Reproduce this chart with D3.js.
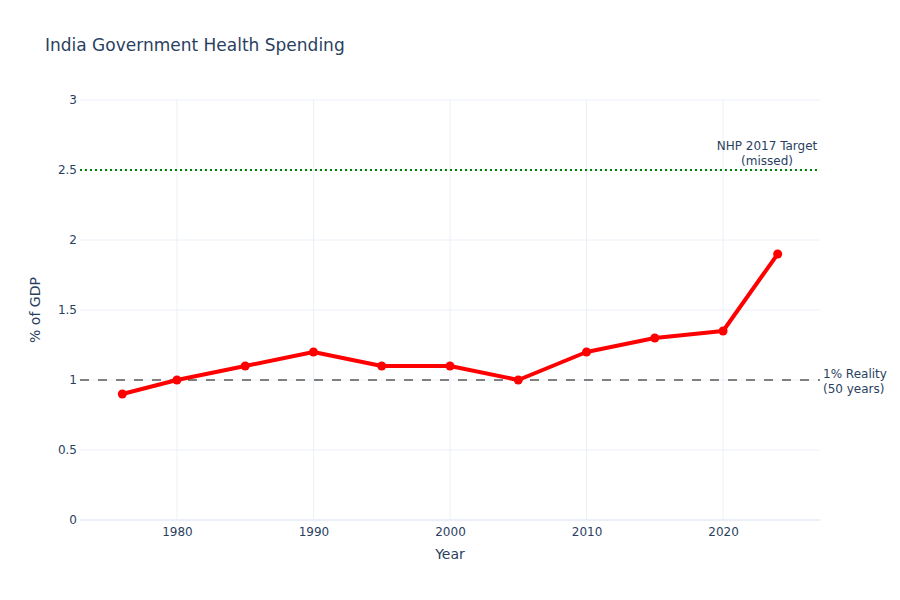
<!DOCTYPE html>
<html><head><meta charset="utf-8">
<script src="https://cdn.jsdelivr.net/npm/d3@7"></script>
<style>body{margin:0;background:#fff;} text{font-family:"DejaVu Sans",Verdana,sans-serif;}</style>
</head><body><svg id="c" width="900" height="600"></svg>
<script>
const years = [1976,1980,1985,1990,1995,2000,2005,2010,2015,2020,2024];
const spending = [0.9,1.0,1.1,1.2,1.1,1.1,1.0,1.2,1.3,1.35,1.9];
const xTicks = [1980,1990,2000,2010,2020];
const yTicks = [0,0.5,1,1.5,2,2.5,3];
const targetLevel = 2.5;
const realityLevel = 1;

const FONT='"DejaVu Sans",Verdana,sans-serif';
const svg = d3.select("#c");
const L=80,R=820,T=100,B=520;
const x = d3.scaleLinear().domain([1972.9,2027.1]).range([L,R]);
const y = d3.scaleLinear().domain([0,3]).range([B,T]);
const txt="#2a3f5f", grid="#ebf0f8";

// grid
svg.append("g").selectAll("line").data(xTicks).join("line")
 .attr("x1",d=>x(d)).attr("x2",d=>x(d)).attr("y1",T).attr("y2",B)
 .attr("stroke",grid).attr("stroke-width",1);
svg.append("g").selectAll("line").data(yTicks.filter(d=>d>0)).join("line")
 .attr("x1",L).attr("x2",R).attr("y1",d=>y(d)).attr("y2",d=>y(d))
 .attr("stroke",grid).attr("stroke-width",1);
svg.append("line").attr("x1",L).attr("x2",R).attr("y1",y(0)).attr("y2",y(0))
 .attr("stroke",grid).attr("stroke-width",2);

// axes
const xa = svg.append("g").attr("transform",`translate(0,${B})`)
 .call(d3.axisBottom(x).tickValues(xTicks).tickSize(0).tickPadding(7).tickFormat(d3.format("d")));
const ya = svg.append("g").attr("transform",`translate(${L},0)`)
 .call(d3.axisLeft(y).tickValues(yTicks).tickSize(0).tickPadding(3).tickFormat(d=>String(d)));
[xa,ya].forEach(a=>{a.select(".domain").remove();
 a.selectAll("text").attr("fill",txt).style("font-size","12px").style("font-family",FONT);});

// reference lines
svg.append("line").attr("x1",L).attr("x2",R).attr("y1",y(targetLevel)).attr("y2",y(targetLevel))
 .attr("stroke","green").attr("stroke-width",2).attr("stroke-dasharray","2,3");
svg.append("line").attr("x1",L).attr("x2",R).attr("y1",y(realityLevel)).attr("y2",y(realityLevel))
 .attr("stroke","gray").attr("stroke-width",2).attr("stroke-dasharray","9,9");

// data line
const pts = years.map((d,i)=>[d,spending[i]]);
svg.append("path").datum(pts).attr("fill","none").attr("stroke","red").attr("stroke-width",4)
 .attr("stroke-linejoin","round")
 .attr("d",d3.line().x(d=>x(d[0])).y(d=>y(d[1])));
svg.append("g").selectAll("circle").data(pts).join("circle")
 .attr("cx",d=>x(d[0])).attr("cy",d=>y(d[1])).attr("r",4.5).attr("fill","red");

// annotations
const a1 = svg.append("text").attr("fill",txt).style("font-size","12px").attr("text-anchor","middle");
a1.append("tspan").attr("x",767).attr("y",y(targetLevel)-20).text("NHP 2017 Target");
a1.append("tspan").attr("x",767).attr("y",y(targetLevel)-5).text("(missed)");
const a2 = svg.append("text").attr("fill",txt).style("font-size","12px").attr("text-anchor","start");
a2.append("tspan").attr("x",823).attr("y",y(realityLevel)-2).text("1% Reality");
a2.append("tspan").attr("x",823).attr("y",y(realityLevel)+13).text("(50 years)");

// titles
svg.append("text").attr("x",45).attr("y",51).attr("fill",txt).style("font-size","17px").text("India Government Health Spending");
svg.append("text").attr("x",(L+R)/2).attr("y",559).attr("text-anchor","middle").attr("fill",txt).style("font-size","14px").text("Year");
svg.append("text").attr("transform",`translate(40,${(T+B)/2}) rotate(-90)`).attr("text-anchor","middle").attr("fill",txt).style("font-size","14px").text("% of GDP");
</script></body></html>
